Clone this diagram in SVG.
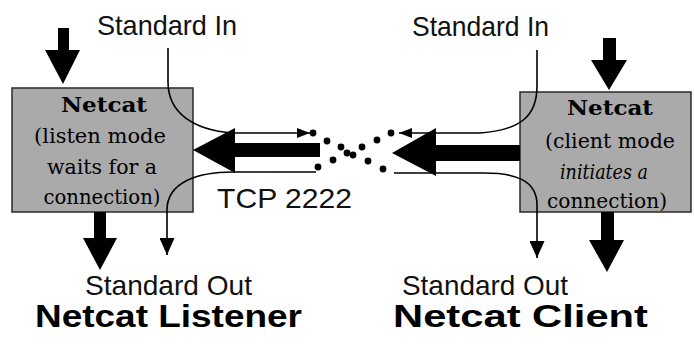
<svg xmlns="http://www.w3.org/2000/svg" width="694" height="347" viewBox="0 0 694 347">
<style>
.box{fill:#aaaaaa;stroke:#2a2a2a;stroke-width:1.5}
.bt{font-family:"DejaVu Serif","Liberation Serif",serif;font-size:21px;fill:#000;text-anchor:middle}
.btb{font-weight:bold}
.lbl{font-family:"Liberation Sans",Arial,sans-serif;font-size:28px;fill:#111}
.ttl{font-family:"Liberation Sans",Arial,sans-serif;font-size:31px;font-weight:bold;fill:#000}
.thin{fill:none;stroke:#000;stroke-width:1.6}
.big{fill:#000}
.dot{fill:#000}
</style>
<defs>
<marker id="hh" markerUnits="userSpaceOnUse" markerWidth="14" markerHeight="10" refX="13" refY="5" orient="auto"><path d="M0,0 L13,5 L0,10 z" fill="#000"/></marker>
<marker id="hv" markerUnits="userSpaceOnUse" markerWidth="18" markerHeight="15" refX="17" refY="7.5" orient="auto"><path d="M0,0 L17,7.5 L0,15 z" fill="#000"/></marker>
</defs>
<rect width="694" height="347" fill="#fff"/>
<g id="listener">
<rect class="box" x="12" y="88" width="181" height="124"/>
<text class="bt btb" x="104" y="112" textLength="86" lengthAdjust="spacingAndGlyphs">Netcat</text>
<text class="bt" x="100" y="143" textLength="132" lengthAdjust="spacingAndGlyphs">(listen mode</text>
<text class="bt" x="102" y="174" textLength="110" lengthAdjust="spacingAndGlyphs">waits for a</text>
<text class="bt" x="102" y="204" textLength="117" lengthAdjust="spacingAndGlyphs">connection)</text>
</g>
<g id="client">
<rect class="box" x="520" y="92" width="171" height="120"/>
<text class="bt btb" x="610" y="115" textLength="86" lengthAdjust="spacingAndGlyphs">Netcat</text>
<text class="bt" x="610" y="148" textLength="130" lengthAdjust="spacingAndGlyphs">(client mode</text>
<text class="bt" x="604" y="179" font-style="italic" font-size="18" textLength="88" lengthAdjust="spacingAndGlyphs">initiates a</text>
<text class="bt" x="607" y="208" textLength="120" lengthAdjust="spacingAndGlyphs">connection)</text>
</g>
<g id="labels">
<text class="lbl" x="97" y="35" textLength="140" lengthAdjust="spacingAndGlyphs">Standard In</text>
<text class="lbl" x="412" y="36" textLength="137" lengthAdjust="spacingAndGlyphs">Standard In</text>
<text class="lbl" x="85" y="295" font-size="26" textLength="167" lengthAdjust="spacingAndGlyphs">Standard Out</text>
<text class="lbl" x="402" y="295" font-size="26" textLength="166" lengthAdjust="spacingAndGlyphs">Standard Out</text>
<text class="lbl" x="217" y="208" font-size="35" textLength="135" lengthAdjust="spacingAndGlyphs">TCP 2222</text>
<text class="ttl" x="35" y="327" textLength="267" lengthAdjust="spacingAndGlyphs">Netcat Listener</text>
<text class="ttl" x="393" y="327" textLength="255" lengthAdjust="spacingAndGlyphs">Netcat Client</text>
</g>
<g id="connectors">
<polygon class="big" points="58,28 69,28 69,50 80,50 63,84 45,50 58,50"/>
<polygon class="big" points="94,212 106,212 106,238 117,238 100,270 83,238 94,238"/>
<polygon class="big" points="603,38 616,38 616,60 627,60 609,90 591,60 603,60"/>
<polygon class="big" points="601,212 614,212 614,240 624,240 607,272 589,240 601,240"/>
<polygon class="big" points="193,150 235,128 235,143 320,143 320,157 235,157 235,173"/>
<polygon class="big" points="392,153 436,128 436,145 520,145 520,161 436,161 436,176"/>
<path class="thin" d="M168,48 V82 C168,112 192,130 233,133 H310" marker-end="url(#hh)"/>
<path class="thin" d="M316,172 H233 C198,172 167,182 167,210 V255" marker-end="url(#hv)"/>
<path class="thin" d="M537,50 V86 C537,115 522,130 480,133 H399" marker-end="url(#hh)"/>
<path class="thin" d="M394,173 H484 C515,173 537,180 537,205 V258" marker-end="url(#hv)"/>
<g class="dot">
<circle cx="313" cy="133" r="3.4"/><circle cx="327" cy="141" r="3.4"/><circle cx="341" cy="147" r="3.4"/><circle cx="353" cy="155" r="3.4"/><circle cx="368" cy="161" r="3.4"/><circle cx="383" cy="169" r="3.4"/>
<circle cx="318" cy="167" r="3.4"/><circle cx="333" cy="160" r="3.4"/><circle cx="347" cy="153" r="3.4"/><circle cx="362" cy="147" r="3.4"/><circle cx="377" cy="140" r="3.4"/><circle cx="391" cy="133" r="3.4"/>
</g>
</g>
</svg>
